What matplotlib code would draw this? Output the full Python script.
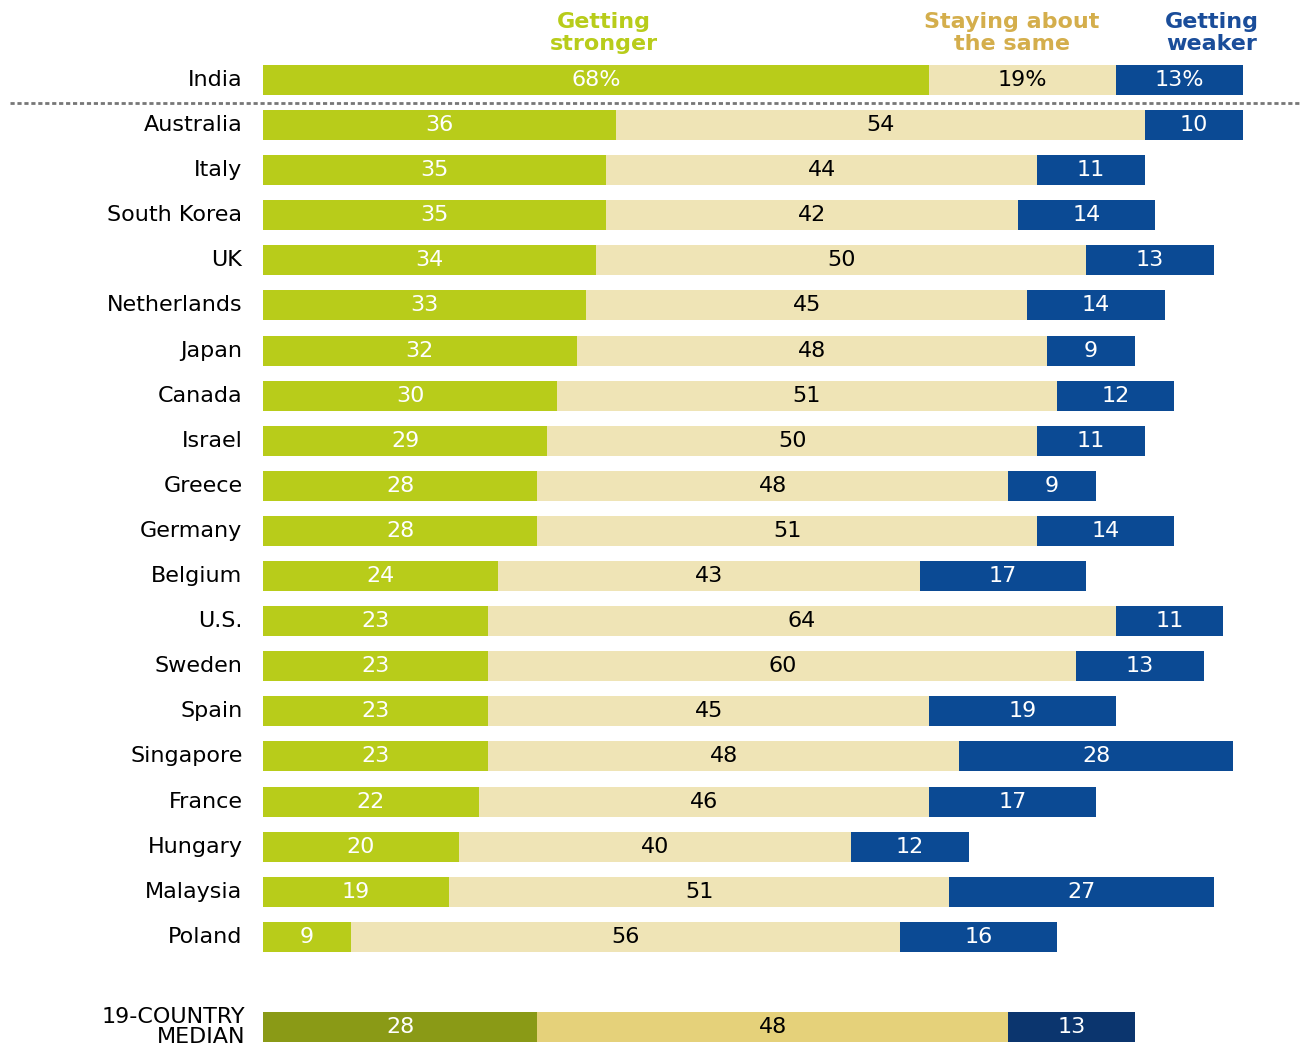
import matplotlib.pyplot as plt

countries = ['India', 'Australia', 'Italy', 'South Korea', 'UK', 'Netherlands', 'Japan',
             'Canada', 'Israel', 'Greece', 'Germany', 'Belgium', 'U.S.', 'Sweden', 'Spain',
             'Singapore', 'France', 'Hungary', 'Malaysia', 'Poland']
stronger = [68, 36, 35, 35, 34, 33, 32, 30, 29, 28, 28, 24, 23, 23, 23, 23, 22, 20, 19, 9]
same = [19, 54, 44, 42, 50, 45, 48, 51, 50, 48, 51, 43, 64, 60, 45, 48, 46, 40, 51, 56]
weaker = [13, 10, 11, 14, 13, 14, 9, 12, 11, 9, 14, 17, 11, 13, 19, 28, 17, 12, 27, 16]
median = [28, 48, 13]

green, beige, blue = '#b8cc1a', '#efe4b6', '#0b4a94'
m_green, m_beige, m_blue = '#8a9a16', '#e5d17a', '#0b356e'

fig = plt.figure(figsize=(13.01, 10.46), dpi=100)
ax = fig.add_axes([263 / 1301, 0, 980 / 1301, 1])
ax.set_xlim(0, 100)
ax.set_ylim(21.42, -1.774)
ax.axis('off')

fs = 16
h = 0.665
for i, c in enumerate(countries):
    s, m, w = stronger[i], same[i], weaker[i]
    # India row sums to 100 in the labels but is drawn a touch short in the original
    ax.barh(i, s, height=h, color=green)
    ax.barh(i, m, left=s, height=h, color=beige)
    ax.barh(i, w, left=s + m, height=h, color=blue)
    suf = '%' if i == 0 else ''
    ax.text(s / 2, i, f'{s}{suf}', color='white', ha='center', va='center', fontsize=fs)
    ax.text(s + m / 2, i, f'{m}{suf}', color='black', ha='center', va='center', fontsize=fs)
    ax.text(s + m + w / 2, i, f'{w}{suf}', color='white', ha='center', va='center', fontsize=fs)
    ax.text(-2.1, i, c, ha='right', va='center', fontsize=fs, clip_on=False)

# median row
y = 21
s, m, w = median
ax.barh(y, s, height=h, color=m_green)
ax.barh(y, m, left=s, height=h, color=m_beige)
ax.barh(y, w, left=s + m, height=h, color=m_blue)
ax.text(s / 2, y, str(s), color='white', ha='center', va='center', fontsize=fs)
ax.text(s + m / 2, y, str(m), color='black', ha='center', va='center', fontsize=fs)
ax.text(s + m + w / 2, y, str(w), color='white', ha='center', va='center', fontsize=fs)
ax.text(-1.8, y, '19-COUNTRY\nMEDIAN', ha='right', va='center', fontsize=fs,
        linespacing=1.0, clip_on=False)

# separator under India
ax.plot([-25.8, 106.0], [0.51, 0.51], color='#777777', lw=2, ls=(0, (1.5, 1)),
        clip_on=False)

# column headers
hy = -1.04
ax.text(34.8, hy, 'Getting\nstronger', color=green, ha='center', va='center',
        fontsize=fs, fontweight='bold', linespacing=1.1)
ax.text(76.4, hy, 'Staying about\nthe same', color='#d4ae4c', ha='center', va='center',
        fontsize=fs, fontweight='bold', linespacing=1.1)
ax.text(96.8, hy, 'Getting\nweaker', color='#1a4d9a', ha='center', va='center',
        fontsize=fs, fontweight='bold', linespacing=1.1)

fig.savefig('out.png', dpi=100)
